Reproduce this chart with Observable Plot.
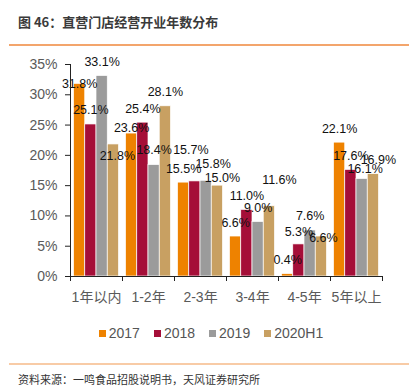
<!DOCTYPE html>
<html>
<head>
<meta charset="utf-8">
<script src="https://cdn.jsdelivr.net/npm/d3@7"></script>
<script src="https://cdn.jsdelivr.net/npm/@observablehq/plot@0.6"></script>
<style>
  html, body { margin: 0; padding: 0; background: #fff; }
  body { width: 420px; height: 391px; position: relative; overflow: hidden;
         font-family: "Liberation Sans", Arial, "Noto Sans CJK SC", sans-serif; }
  #title { position: absolute; left: 18px; top: 13px; font-size: 13px; line-height: 18px;
           font-weight: bold; color: #3a3a3a; font-family: "Noto Sans CJK SC", sans-serif; }
  #line1 { position: absolute; left: 9px; top: 44px; width: 400px; height: 1.5px; background: #F3A56C; }
  #chart { position: absolute; left: 0; top: 46px; }
  #legend { position: absolute; left: 0; top: 324px; width: 422px; display: flex; justify-content: center;
            font-size: 14px; line-height: 18px; color: #555; }
  #legend .item { display: flex; align-items: center; margin: 0 7px; }
  #legend .sw { width: 7px; height: 7px; margin-right: 3px; }
  #line2 { position: absolute; left: 9px; top: 363px; width: 400px; height: 1.5px; background: #F8CBA6; }
  #source { position: absolute; left: 18px; top: 371px; font-size: 11px; line-height: 16px; color: #333;
            font-family: "Noto Sans CJK SC", sans-serif; }
</style>
</head>
<body>
<div id="title">图 46：直营门店经营开业年数分布</div>
<div id="line1"></div>
<div id="chart"></div>
<div id="legend"></div>
<div id="line2"></div>
<div id="source">资料来源：一鸣食品招股说明书，天风证券研究所</div>
<script>
// ---- data ----
const categories = ["1年以内", "1-2年", "2-3年", "3-4年", "4-5年", "5年以上"];
const series = ["2017", "2018", "2019", "2020H1"];
const values2017 = [31.8, 23.6, 15.5, 6.6, 0.4, 22.1];
const values2018 = [25.1, 25.4, 15.7, 11.0, 5.3, 17.6];
const values2019 = [33.1, 18.4, 15.8, 9.0, 7.6, 16.1];
const values2020H1 = [21.8, 28.1, 15.0, 11.6, 6.6, 16.9];
const yTicks = [0, 5, 10, 15, 20, 25, 30, 35];

// ---- styling ----
const colors = ["#EE8200", "#A50E38", "#9B9B9B", "#C8A062"];
// label offsets in pixels [dx, dy] relative to bar top centre, per series, per category
const labelOffsets = [
  [[0, 0], [0, -6], [0, -14], [0, -14], [0, -14], [0, -14]],
  [[0, -14], [0, -14], [-4, -31], [0, -14], [0, -12], [0, -14]],
  [[0, -14], [0, -15], [7, -17], [0, -14], [0, -14], [3, -10]],
  [[4, 12], [0, -14], [5, -8], [10, -26], [2, 1], [5, -14]]
];

const seriesValues = [values2017, values2018, values2019, values2020H1];
const table = [];
series.forEach((s, si) => categories.forEach((c, ci) => {
  table.push({category: c, series: s, si, ci, value: seriesValues[si][ci]});
}));

const width = 420, marginLeft = 70, marginRight = 38;
const step = (width - marginLeft - marginRight) / categories.length;
const barW = 11.25, pad = (step - barW * series.length) / 2;
const half = step / 2;

const marks = [];
series.forEach((s, si) => {
  marks.push(Plot.barY(table.filter(d => d.si === si), {
    x: "category", y: "value", fill: colors[si],
    stroke: "white", strokeWidth: 0.7,
    insetLeft: pad + barW * si,
    insetRight: step - pad - barW * (si + 1)
  }));
});
table.forEach(d => {
  const [dx, dy] = labelOffsets[d.si][d.ci];
  marks.push(Plot.text([d], {
    x: "category", y: "value", text: v => v.value.toFixed(1) + "%",
    dx: -half + pad + barW * d.si + barW / 2 + dx, dy: dy,
    fill: "#111", fontSize: 12.5
  }));
});
// axes
marks.push(Plot.axisY({ticks: yTicks, tickFormat: d => d + "%", tickSize: 5, tickPadding: 8,
  fontSize: 14, color: "#5a5a5a", stroke: "#222", label: null}));
marks.push(Plot.axisX({tickSize: 0, tickPadding: 16, fontSize: 14, color: "#5a5a5a", label: null}));
marks.push(Plot.ruleY([0], {stroke: "#222"}));
marks.push(Plot.ruleX([categories[0]], {y1: 0, y2: 35, dx: -half, stroke: "#222"}));
marks.push(Plot.ruleX(categories, {y1: 0, y2: 0, dx: -half, insetBottom: -5, stroke: "#222"}));
marks.push(Plot.ruleX([categories[categories.length - 1]], {y1: 0, y2: 0, dx: half, insetBottom: -5, stroke: "#222"}));

const chart = Plot.plot({
  width, height: 266,
  marginLeft, marginRight, marginTop: 18, marginBottom: 36,
  style: {fontFamily: '"Liberation Sans", Arial, "Noto Sans CJK SC", sans-serif', background: "transparent", overflow: "visible"},
  x: {type: "band", domain: categories, padding: 0, axis: null},
  y: {domain: [0, 35], axis: null},
  marks
});
document.getElementById("chart").appendChild(chart);

const legend = document.getElementById("legend");
series.forEach((s, i) => {
  const item = document.createElement("div");
  item.className = "item";
  const sw = document.createElement("span");
  sw.className = "sw";
  sw.style.background = colors[i];
  const t = document.createElement("span");
  t.textContent = s;
  item.appendChild(sw); item.appendChild(t);
  legend.appendChild(item);
});
</script>
</body>
</html>
